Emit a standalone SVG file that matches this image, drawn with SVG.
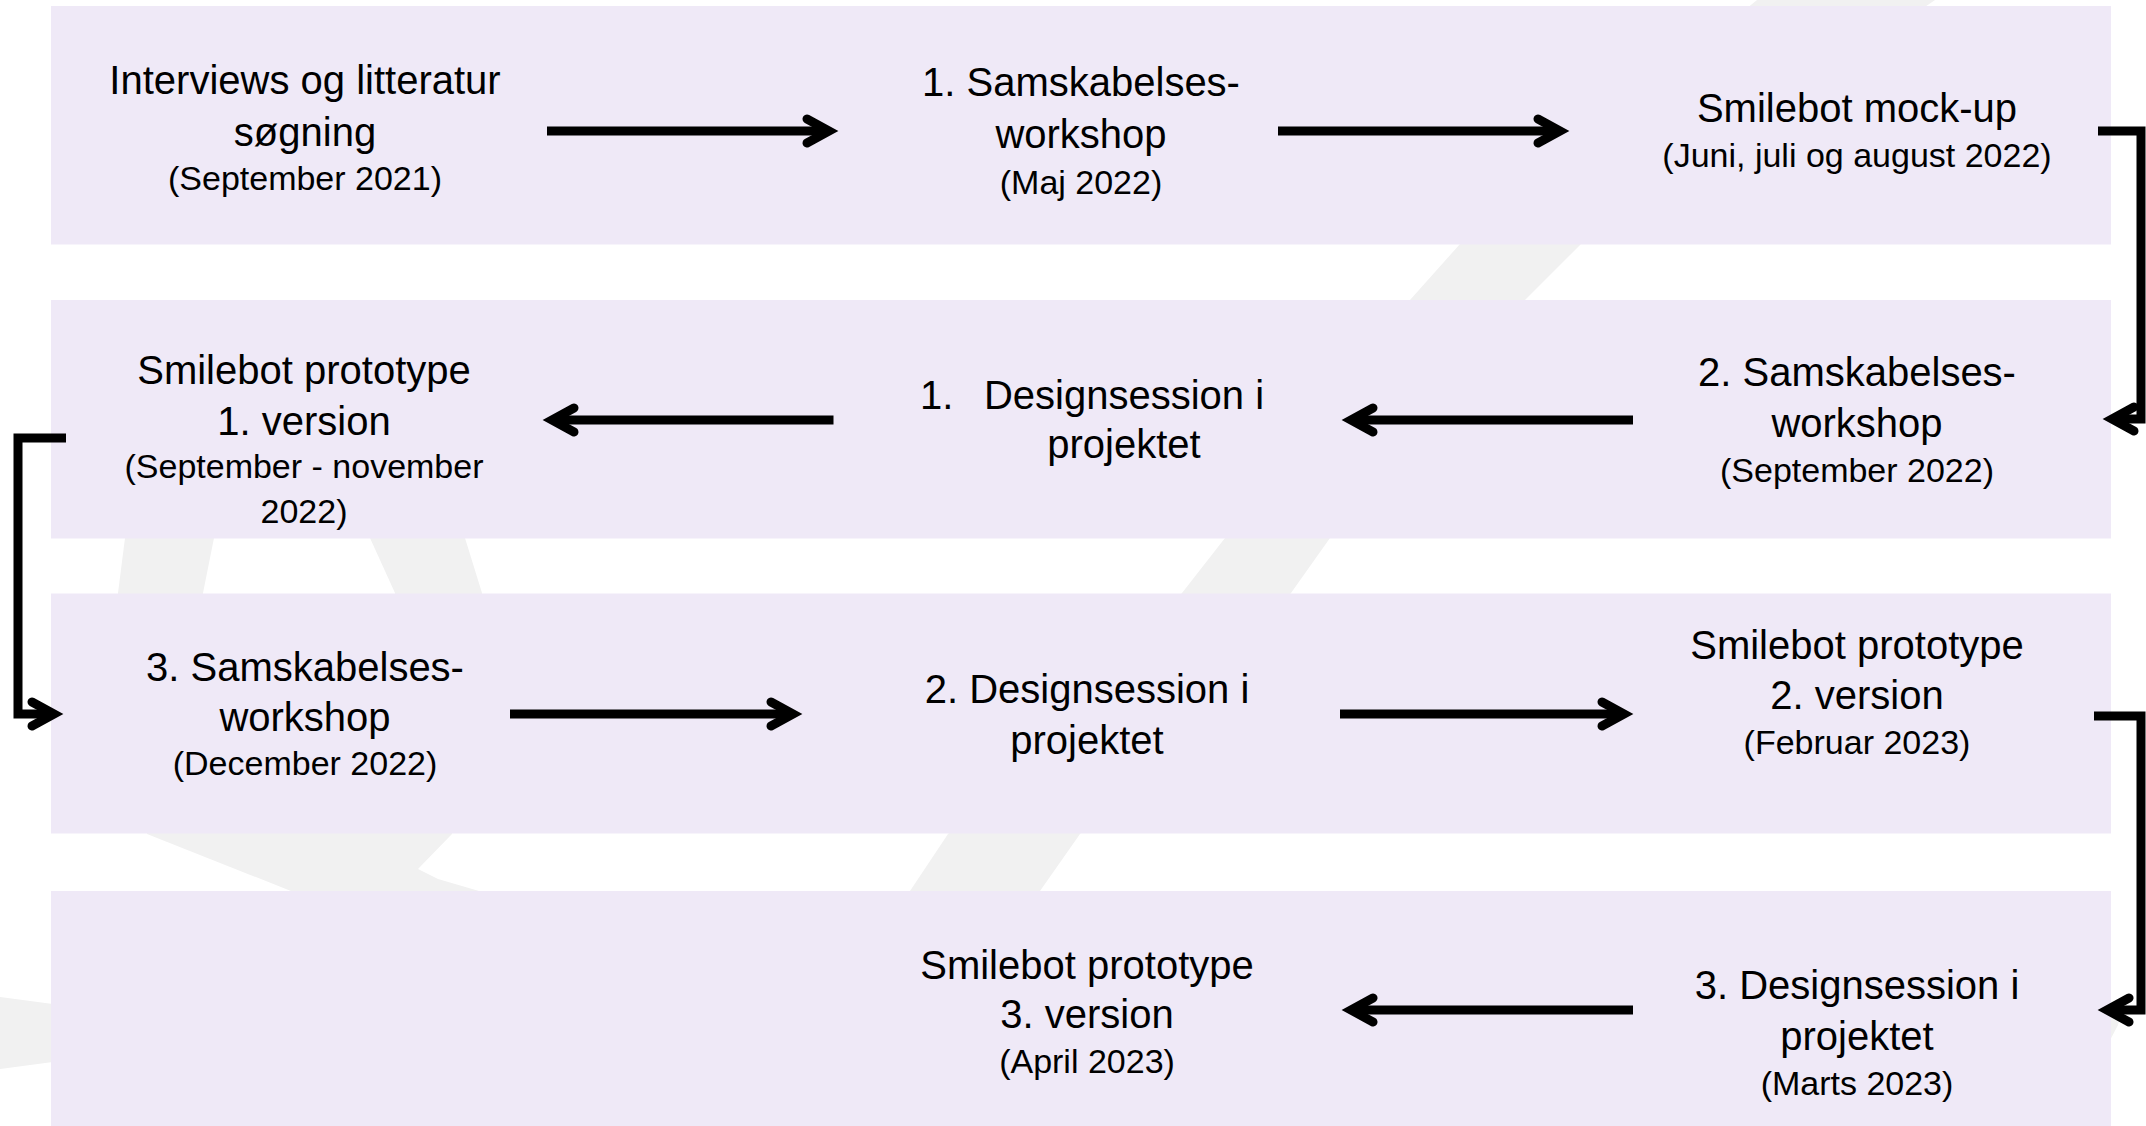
<svg xmlns="http://www.w3.org/2000/svg" width="2146" height="1126" viewBox="0 0 2146 1126">
  <style>
    .band { fill: #EFE9F7; }
    .wm { fill: #F1F1F1; }
    .main { font-family: "Liberation Sans", Arial, sans-serif; font-size: 40px; fill: #000; text-anchor: middle; }
    .small { font-family: "Liberation Sans", Arial, sans-serif; font-size: 34px; fill: #000; text-anchor: middle; }
    .conn { fill: none; stroke: #000; stroke-width: 9; stroke-linejoin: miter; stroke-linecap: butt; }
  </style>
  <defs>
    <marker id="ah" markerUnits="userSpaceOnUse" orient="auto" refX="0" refY="0" viewBox="-40 -30 60 60" markerWidth="60" markerHeight="60" overflow="visible">
      <path d="M-22,-12 L0,0 L-22,12" fill="none" stroke="#000" stroke-width="9" stroke-linecap="round" stroke-linejoin="miter"/>
    </marker>
  </defs>

  <rect width="2146" height="1126" fill="#FFFFFF"/>

  <g id="watermark">
    <polygon class="wm" points="1757,0 1935,0 1581,244 1525,300 1330,538 1291,593 1080,834 1040,891 1000,940 870,940 910,891 948,834 1182,593 1225,538 1410,300 1460,244"/>
    <path class="wm" fill-rule="evenodd" d="M128,470 L125,538 L118,593 L122,700 L147,834 L291,891 L360,935 L470,935 L479,891 L438,879 L418,869 L452,834 L472,700 L482,593 L465,538 L455,470 Z M300,460 L370,538 L395,593 L372,700 L300,780 L215,700 L203,593 L214,538 Z"/>
    <polygon class="wm" points="0,997 60,1005 60,1061 0,1069"/>
    <polygon class="wm" points="2108,1004 2124,999 2118,1025 2108,1044"/>
  </g>

  <g id="rows">
    <rect class="band" x="51" y="6" width="2060" height="238.5"/>
    <rect class="band" x="51" y="300" width="2060" height="238.5"/>
    <rect class="band" x="51" y="593.5" width="2060" height="240"/>
    <rect class="band" x="51" y="891" width="2060" height="240"/>
  </g>

  <g id="connectors">
    <path class="conn" d="M547,131 H829" marker-end="url(#ah)"/>
    <path class="conn" d="M1278,131 H1560" marker-end="url(#ah)"/>
    <path class="conn" d="M2098,131 H2141 V419 H2112" marker-end="url(#ah)"/>
    <path class="conn" d="M1633,420 H1351" marker-end="url(#ah)"/>
    <path class="conn" d="M833.5,420 H552" marker-end="url(#ah)"/>
    <path class="conn" d="M66,438 H18 V714 H54" marker-end="url(#ah)"/>
    <path class="conn" d="M510,714 H793" marker-end="url(#ah)"/>
    <path class="conn" d="M1340,714 H1624" marker-end="url(#ah)"/>
    <path class="conn" d="M2094,716 H2141 V1010 H2107" marker-end="url(#ah)"/>
    <path class="conn" d="M1633,1010 H1351" marker-end="url(#ah)"/>
  </g>

  <g id="node-interviews">
    <text class="main" x="305" y="94">Interviews og litteratur</text>
    <text class="main" x="305" y="146">søgning</text>
    <text class="small" x="305" y="190">(September 2021)</text>
  </g>
  <g id="node-workshop1">
    <text class="main" x="1081" y="96">1. Samskabelses-</text>
    <text class="main" x="1081" y="148">workshop</text>
    <text class="small" x="1081" y="194">(Maj 2022)</text>
  </g>
  <g id="node-mockup">
    <text class="main" x="1857" y="122">Smilebot mock-up</text>
    <text class="small" x="1857" y="167">(Juni, juli og august 2022)</text>
  </g>
  <g id="node-prototype1">
    <text class="main" x="304" y="384">Smilebot prototype</text>
    <text class="main" x="304" y="435">1. version</text>
    <text class="small" x="304" y="478">(September - november</text>
    <text class="small" x="304" y="523">2022)</text>
  </g>
  <g id="node-design1">
    <text class="main" x="920" y="409" style="text-anchor:start">1.</text>
    <text class="main" x="1124" y="409">Designsession i</text>
    <text class="main" x="1124" y="458">projektet</text>
  </g>
  <g id="node-workshop2">
    <text class="main" x="1857" y="386">2. Samskabelses-</text>
    <text class="main" x="1857" y="437">workshop</text>
    <text class="small" x="1857" y="482">(September 2022)</text>
  </g>
  <g id="node-workshop3">
    <text class="main" x="305" y="681">3. Samskabelses-</text>
    <text class="main" x="305" y="731">workshop</text>
    <text class="small" x="305" y="775">(December 2022)</text>
  </g>
  <g id="node-design2">
    <text class="main" x="1087" y="703">2. Designsession i</text>
    <text class="main" x="1087" y="754">projektet</text>
  </g>
  <g id="node-prototype2">
    <text class="main" x="1857" y="659">Smilebot prototype</text>
    <text class="main" x="1857" y="709">2. version</text>
    <text class="small" x="1857" y="754">(Februar 2023)</text>
  </g>
  <g id="node-prototype3">
    <text class="main" x="1087" y="979">Smilebot prototype</text>
    <text class="main" x="1087" y="1028">3. version</text>
    <text class="small" x="1087" y="1073">(April 2023)</text>
  </g>
  <g id="node-design3">
    <text class="main" x="1857" y="999">3. Designsession i</text>
    <text class="main" x="1857" y="1050">projektet</text>
    <text class="small" x="1857" y="1095">(Marts 2023)</text>
  </g>
</svg>
